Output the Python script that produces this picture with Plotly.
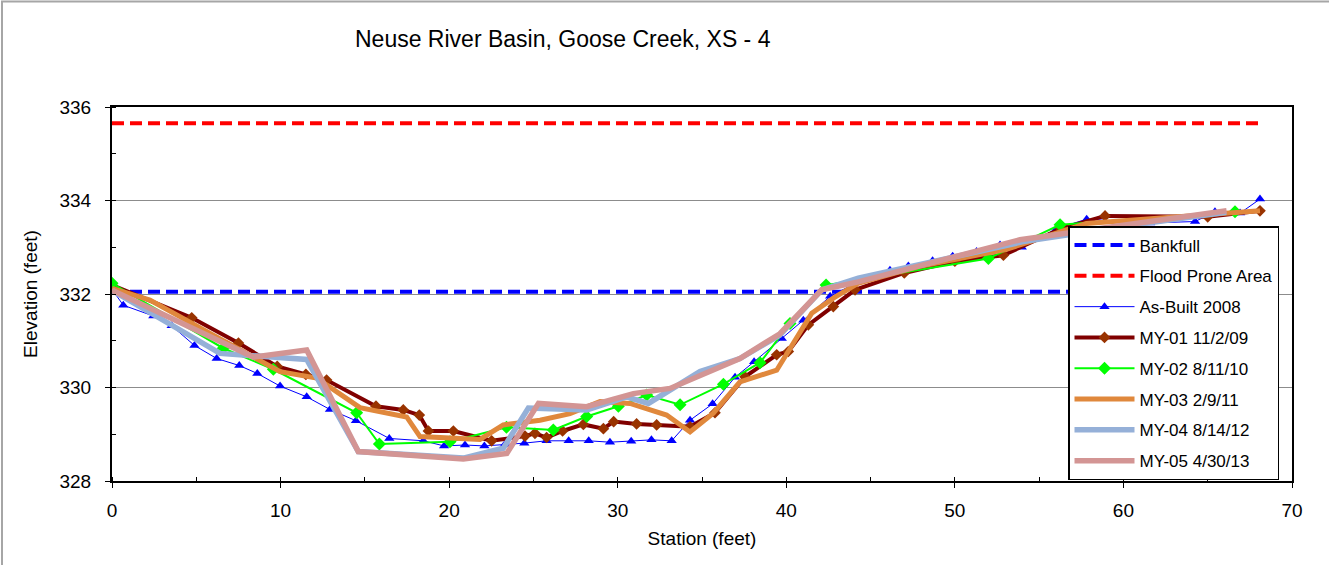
import plotly.graph_objects as go

# ---------------- data ----------------
bank_x = [0, 68.1]
bank_y = [332.05, 332.05]
flood_x = [0, 68.2]
flood_y = [335.65, 335.65]

asb_x = [0, 0.67, 2.45, 3.54, 4.89, 6.21, 7.55, 8.62, 9.97, 11.55, 12.93, 14.47, 16.45, 18.47,
         19.70, 20.94, 22.09, 23.3, 24.46, 25.78, 27.09, 28.28, 29.54, 30.8, 32.0, 33.2, 34.29,
         35.63, 36.96, 38.09, 39.73, 41.01, 42.6, 44.25, 46.15, 47.24, 48.68, 49.87, 51.29,
         52.68, 53.97, 56.04, 57.82, 61.58, 64.25, 65.43, 66.92, 68.10]
asb_y = [332.10, 331.76, 331.53, 331.32, 330.90, 330.62, 330.47, 330.30, 330.03, 329.80, 329.53,
         329.29, 328.91, 328.86, 328.75, 328.77, 328.75, 328.78, 328.81, 328.86, 328.86, 328.86,
         328.83, 328.85, 328.88, 328.86, 329.30, 329.65, 330.22, 330.55, 331.05, 331.44, 331.95,
         332.26, 332.51, 332.60, 332.71, 332.81, 332.91, 333.05, 333.00, 333.40, 333.60, 333.52,
         333.55, 333.76, 333.73, 334.03]

my1_x = [0, 4.73, 7.5, 9.8, 11.5, 12.73, 15.66, 17.28, 18.23, 18.77, 20.25, 22.52, 24.50, 25.09,
         25.78, 26.73, 27.96, 29.15, 29.76, 31.12, 32.31, 34.29, 35.77, 37.55, 39.43, 40.12,
         41.31, 42.79, 44.08, 47.0, 50.0, 52.88, 56.3, 58.91, 65.0, 68.1]
my1_y = [332.19, 331.49, 330.95, 330.45, 330.28, 330.16, 329.60, 329.52, 329.41, 329.07, 329.07,
         328.86, 328.96, 329.02, 328.93, 329.07, 329.21, 329.12, 329.27, 329.22, 329.20, 329.16,
         329.46, 330.23, 330.70, 330.77, 331.34, 331.73, 332.09, 332.45, 332.70, 332.83, 333.40,
         333.67, 333.65, 333.78]

my2_x = [0, 6.6, 9.57, 14.51, 15.86, 20.05, 23.4, 26.18, 28.16, 30.04, 31.72, 33.70, 36.27, 38.44,
         40.22, 42.36, 51.99, 56.24, 66.62]
my2_y = [332.23, 330.84, 330.39, 329.46, 328.79, 328.84, 329.15, 329.09, 329.38, 329.60, 329.84,
         329.63, 330.07, 330.53, 331.37, 332.19, 332.76, 333.48, 333.76]

my3_x = [0, 2.25, 6.01, 8.38, 9.97, 12.14, 14.71, 17.48, 18.27, 21.83, 23.21, 25.39, 27.17, 28.95,
         30.73, 32.90, 34.29, 35.67, 37.25, 39.43, 41.51, 42.79, 44.25, 48.0, 53.0, 57.8, 68.1]
my3_y = [332.12, 331.87, 331.12, 330.66, 330.34, 330.20, 329.57, 329.37, 328.95, 328.89, 329.20,
         329.30, 329.44, 329.70, 329.66, 329.41, 329.05, 329.45, 330.12, 330.37, 331.59, 331.91,
         332.23, 332.60, 332.95, 333.51, 333.78]

my4_x = [0, 6.41, 11.55, 14.61, 20.84, 23.21, 24.70, 28.16, 30.53, 31.82, 34.88, 37.25, 39.62,
         42.10, 44.27, 54.06, 56.63, 60.0, 66.1]
my4_y = [332.08, 330.73, 330.60, 328.63, 328.49, 328.70, 329.56, 329.52, 329.80, 329.66, 330.34,
         330.62, 331.12, 332.09, 332.34, 333.12, 333.26, 333.45, 333.75]

my5_x = [0, 8.38, 11.55, 14.61, 20.84, 23.42, 25.30, 28.16, 30.93, 33.10, 37.25, 39.62, 42.10,
         44.27, 53.86, 56.63, 66.12]
my5_y = [332.08, 330.65, 330.80, 328.63, 328.47, 328.59, 329.66, 329.59, 329.87, 329.98, 330.62,
         331.15, 332.09, 332.26, 333.16, 333.30, 333.78]

title_text = "Neuse River Basin, Goose Creek, XS - 4"
x_title = "Station (feet)"
y_title = "Elevation (feet)"

# ---------------- figure ----------------
FONT = "Liberation Sans, Arial, sans-serif"
fig = go.Figure()

fig.add_trace(go.Scatter(x=bank_x, y=bank_y, mode="lines", name="Bankfull", legendgroup="g1",
                         line=dict(color="#0000FF", width=4, dash="12px,6px")))
fig.add_trace(go.Scatter(x=flood_x, y=flood_y, mode="lines", name="Flood Prone Area", legendgroup="g2",
                         line=dict(color="#FF0000", width=4, dash="12px,6px")))
fig.add_trace(go.Scatter(x=asb_x, y=asb_y, mode="lines+markers", name="As-Built 2008", legendgroup="g3",
                         line=dict(color="#0000FF", width=1),
                         marker=dict(symbol="triangle-up", size=9, color="#0000FF")))
fig.add_trace(go.Scatter(x=my1_x, y=my1_y, mode="lines+markers", name="MY-01 11/2/09", legendgroup="g4",
                         line=dict(color="#800000", width=4),
                         marker=dict(symbol="diamond", size=9, color="#993300")))
fig.add_trace(go.Scatter(x=my2_x, y=my2_y, mode="lines+markers", name="MY-02 8/11/10", legendgroup="g5",
                         line=dict(color="#00FF00", width=2),
                         marker=dict(symbol="diamond", size=10, color="#00FF00")))
fig.add_trace(go.Scatter(x=my3_x, y=my3_y, mode="lines", name="MY-03 2/9/11", legendgroup="g6",
                         line=dict(color="#E0883C", width=5)))
fig.add_trace(go.Scatter(x=my4_x, y=my4_y, mode="lines", name="MY-04 8/14/12", legendgroup="g7",
                         line=dict(color="#95B0D8", width=5.5)))
fig.add_trace(go.Scatter(x=my5_x, y=my5_y, mode="lines", name="MY-05 4/30/13", legendgroup="g8",
                         line=dict(color="#D39594", width=5.5)))

fig.update_layout(
    width=1329, height=565, autosize=False,
    margin=dict(l=112, r=37, t=107, b=84),
    paper_bgcolor="white", plot_bgcolor="white",
    font=dict(family=FONT, color="black", size=19),
    title=dict(text=title_text, x=355 / 1329, xanchor="left", xref="container",
               y=1 - 39 / 565, yanchor="middle", yref="container",
               font=dict(size=23, family=FONT, color="black")),
    showlegend=True,
    legend=dict(x=(1068 - 112) / 1180, y=(481 - 226) / 374, xanchor="left", yanchor="top",
                bgcolor="white", bordercolor="black", borderwidth=1.5,
                font=dict(size=17, family=FONT, color="black"),
                tracegroupgap=5.7, itemwidth=60, traceorder="grouped", entrywidth=150),
    xaxis=dict(range=[0, 70], dtick=10, tick0=0, showgrid=False, zeroline=False,
               showline=True, linecolor="black", linewidth=2, mirror=True,
               ticks="outside", ticklen=5, tickcolor="black", ticklabelstandoff=6,
               minor=dict(dtick=5, ticks="inside", ticklen=4, tickcolor="black", showgrid=False),
               title=dict(text=x_title, standoff=12, font=dict(size=19)),
               tickfont=dict(size=19)),
    yaxis=dict(range=[328, 336], dtick=2, tick0=328, showgrid=True, gridcolor="#8C8C8C", gridwidth=1,
               zeroline=False, showline=True, linecolor="black", linewidth=2, mirror=True,
               ticks="outside", ticklen=5, tickcolor="black", ticklabelstandoff=10,
               minor=dict(dtick=1, ticks="inside", ticklen=4, tickcolor="black", showgrid=False),
               title=dict(text=y_title, standoff=17, font=dict(size=19)),
               tickfont=dict(size=19)),
    shapes=[dict(type="rect", xref="paper", yref="paper",
                 x0=(2 - 112) / 1180, x1=(1340 - 112) / 1180,
                 y0=(481 - 580) / 374, y1=(481 - 1.5) / 374,
                 line=dict(color="#A6A6A6", width=2), fillcolor="rgba(0,0,0,0)", layer="below")],
)

fig.write_html("out.html", config={"displayModeBar": False},
               post_script="document.body.style.margin='0';document.body.style.padding='0';")
